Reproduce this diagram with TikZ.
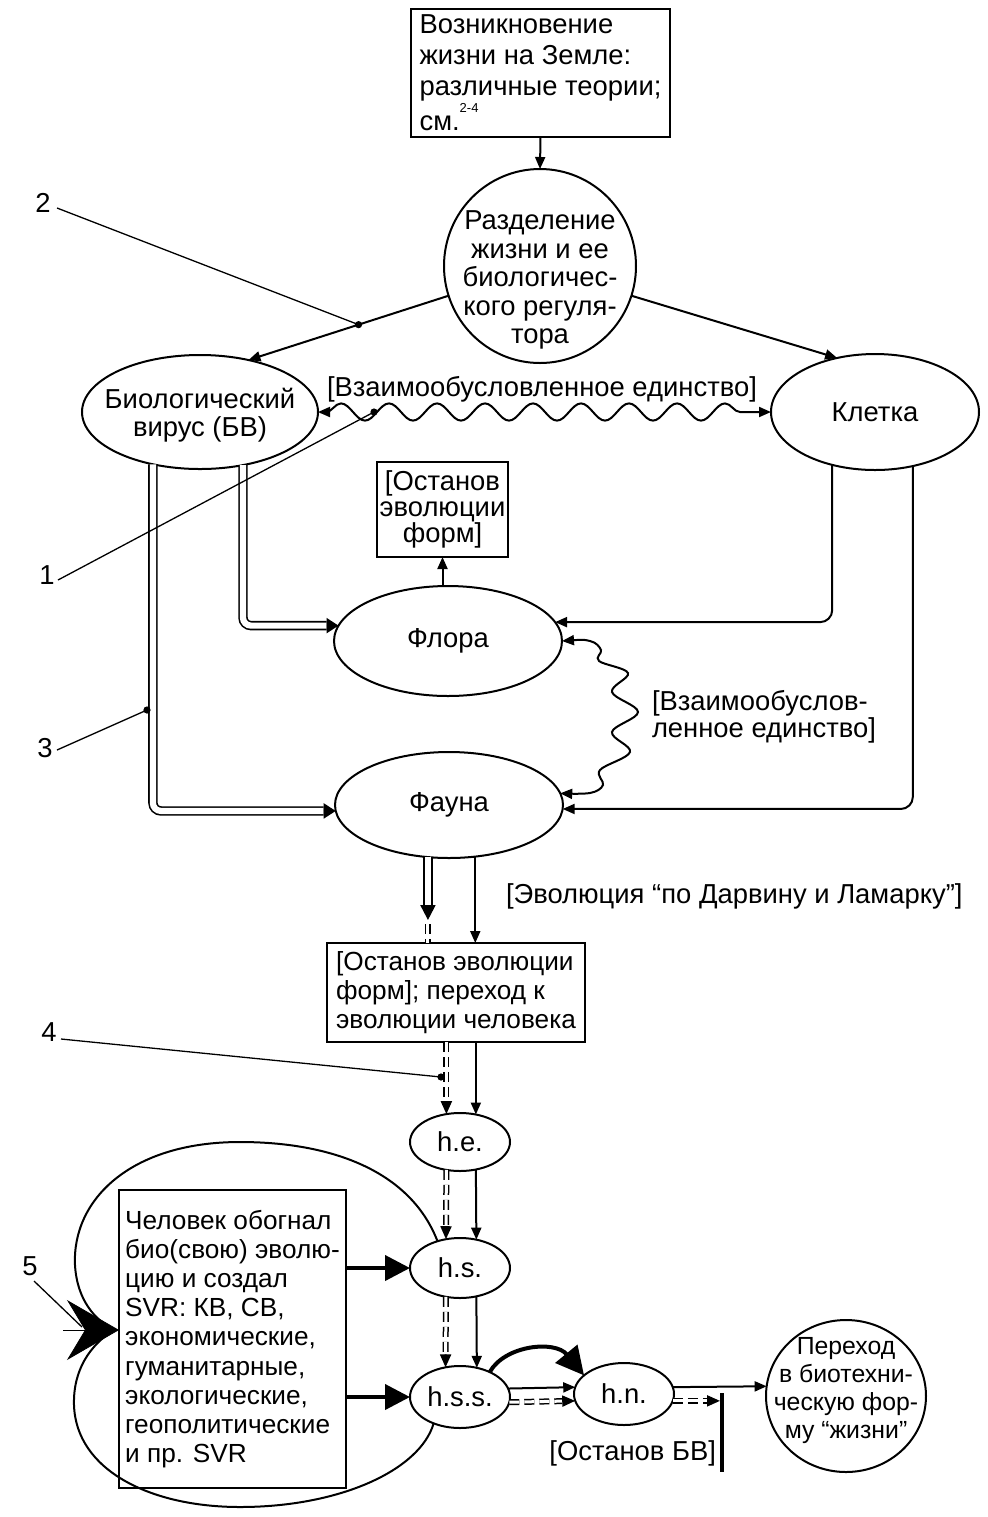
\documentclass[tikz,border=0pt]{standalone}
\usepackage{fontspec}
\setmainfont{Liberation Sans}
\usetikzlibrary{arrows.meta,shapes.geometric,decorations.pathmorphing,calc}
\newcommand{\myfs}[1]{\fontsize{13.7pt}{#1}\selectfont}
\newcommand{\myfsz}[2]{\fontsize{#1}{#2}\selectfont}
\begin{document}
\begin{tikzpicture}[x=0.5pt,y=-0.5pt,
  every node/.style={inner sep=0pt, outer sep=0pt, font=\myfs{14.5pt}},
  ln/.style={line width=1pt},
  arr/.style={ln, -{Triangle[length=6pt,width=5pt]}},
  lead/.style={line width=0.65pt},
  ell/.style={draw, ellipse, ln, inner sep=0pt},
  boxn/.style={draw, line width=1.1pt},
  dbl/.style={line width=0.8pt, double, double distance=3.1pt},
  dbltip/.style={ln, -{Triangle[length=6pt,width=7.5pt]}},
  dbltipb/.style={ln, -{Triangle[length=7.5pt,width=7.5pt]}},
  dbld/.style={line width=0.75pt, double, double distance=1.5pt, dash pattern=on 5pt off 2.5pt},
  dbldtip/.style={ln, -{Triangle[length=6.5pt,width=5.5pt]}},
  thk/.style={line width=2pt, -{Triangle[length=12.5pt,width=12.5pt]}},
  thkc/.style={line width=2pt, -{Triangle[length=14pt,width=14pt]}},
  wave/.style={ln, {Triangle[length=6pt,width=5pt]}-{Triangle[length=6pt,width=5pt]}},
  dotn/.style={circle, fill, minimum size=3.6pt}
]
\fill[white] (0,0) rectangle (988,1517);

% ---------- nodes ----------
\node[boxn, align=left, minimum width=129.5pt, minimum height=64pt, font=\myfs{15.5pt}] (orig) at (540.5,73)
  {Возникновение\\жизни на Земле:\\различные теории;\\см.\raisebox{1.25ex}{\fontsize{6.5pt}{6.5pt}\selectfont 2-4}};

\node[ell, minimum width=96pt, minimum height=97pt] (razd) at (540,266) {};
\node[align=center, font=\myfs{14.25pt}] (razdt) at (540,280) {Разделение\\жизни и ее\\биологичес-\\кого регуля-\\тора};

\node[ell, minimum width=118pt, minimum height=57pt] (bio) at (200,412) {};
\node[align=center, font=\myfs{14pt}] (biot) at (200,415) {Биологический\\вирус (БВ)};

\node[ell, minimum width=104pt, minimum height=58pt] (klet) at (875,412) {Клетка};

\node[anchor=base] (wl1) at (542,396) {[Взаимообусловленное единство]};

\node[boxn, align=center, minimum width=65.5pt, minimum height=47.5pt, font=\myfs{13pt}] (stop1) at (442.5,509.5) {[Останов\\эволюции\\форм]};

\node[ell, minimum width=114pt, minimum height=55pt] (flora) at (448,641) {Флора};
\node[ell, minimum width=114pt, minimum height=53pt] (fauna) at (449,805) {Фауна};

\node[anchor=west, align=left, font=\myfs{12.5pt}] (wl2) at (652,717) {[Взаимообуслов-\\ленное единство]};

\node[anchor=base west] (evl) at (506,903) {[Эволюция “по Дарвину и Ламарку”]};

\node[boxn, align=left, minimum width=129pt, minimum height=49.5pt, font=\myfsz{13.1pt}{14.5pt}] (box2) at (456,992.5)
  {[Останов эволюции\\форм]; переход к\\эволюции человека};

\node[ell, minimum width=50pt, minimum height=29pt] (he) at (460,1142) {h.e.};
\node[ell, minimum width=50pt, minimum height=30pt] (hs) at (460,1268) {h.s.};
\node[ell, minimum width=50pt, minimum height=31pt] (hss) at (460,1397) {h.s.s.};
\node[ell, minimum width=50pt, minimum height=31pt] (hn) at (624,1394) {h.n.};

\node[ell, minimum width=80pt, minimum height=76pt] (per) at (846,1396) {};
\node[align=center, font=\myfsz{12.4pt}{14pt}] (pert) at (846,1391) {Переход\\в биотехни-\\ческую фор-\\му “жизни”};

\node[boxn, align=left, minimum width=113.5pt, minimum height=149pt, font=\myfsz{13.1pt}{14.6pt}] (chel) at (232.5,1339)
  {Человек обогнал\\био(свою) эволю-\\цию и создал\\SVR: КВ, СВ,\\экономические,\\гуманитарные,\\экологические,\\геополитические\\и пр. SVR};

\node[anchor=base east] (stbv) at (716,1460) {[Останов БВ]};

\node (n2) at (43,203) {2};
\node (n1) at (47,575) {1};
\node (n3) at (45,748) {3};
\node (n4) at (49,1032) {4};
\node (n5) at (30,1266) {5};

% ---------- connectors ----------
\draw[arr] (orig.south) -- (razd.north);
\draw[arr] (razd.198) -- (bio.47) coordinate[pos=0.45] (p2);
\draw[arr] (razd.342) -- (klet.125);

\draw[wave, decorate, decoration={snake, segment length=24pt, amplitude=4.3pt, pre length=4pt, post length=4pt}] (bio.east) -- (klet.west);

\draw[arr] (flora.north -| stop1.south) -- (stop1.south);

\coordinate (fl1) at ([xshift=-6pt]flora.172);
\draw[dbl, rounded corners=4pt] (bio.309) |- (fl1);
\draw[dbltip] (fl1) -- (flora.172);

\coordinate (fa1) at ([xshift=-6pt]fauna.183);
\draw[dbl, rounded corners=4pt] (bio.228) |- (fa1);
\draw[dbltip] (fa1) -- (fauna.183);

\draw[arr, rounded corners=6pt] (klet.231) |- (flora.10);
\draw[arr, rounded corners=6pt] (klet.305) |- (fauna.358);

\draw[wave] plot[smooth, tension=0.6] coordinates {(flora.east) (590,641) (601,650) (599,661) (628,673) (612,692) (638,712) (612,732) (630,752) (600,770) (603,785) (590,793) (fauna.6)};

\draw[dbl] (fauna.248) -- (fauna.248 |- 0,906);
\draw[dbltipb] (fauna.248 |- 0,905) -- (fauna.248 |- 0,920);
\draw[dbld] (fauna.248 |- 0,924) -- (fauna.248 |- box2.north);
\draw[arr] (fauna.297) -- (fauna.297 |- box2.north);

\draw[dbld] (he.116 |- box2.south) -- ($(he.116)!6.5pt!(he.116 |- box2.south)$);
\draw[dbldtip] ($(he.116)!6.5pt!(he.116 |- box2.south)$) -- (he.116);
\draw[arr] (he.60 |- box2.south) -- (he.60);

\draw[dbld] (he.244) -- ($(hs.116)!6.5pt!(he.244)$);
\draw[dbldtip] ($(hs.116)!6.5pt!(he.244)$) -- (hs.116);
\draw[arr] (he.300) -- (hs.60);

\draw[dbld] (hs.244) -- ($(hss.116)!6.5pt!(hs.244)$);
\draw[dbldtip] ($(hss.116)!6.5pt!(hs.244)$) -- (hss.116);
\draw[arr] (hs.300) -- (hss.60);

\draw[thk] (hs.west -| chel.east) -- (hs.west);
\draw[thk] (hss.west -| chel.east) -- (hss.west);

\draw[thkc] (hss.40) .. controls (505,1345) and (555,1340) .. (hn.155);
\draw[arr] (hss.10) -- (hn.172);
\draw[dbld] (hss.354) -- ($(hn.188)!6.5pt!(hss.354)$);
\draw[dbldtip] ($(hn.188)!6.5pt!(hss.354)$) -- (hn.188);
\draw[arr] (hn.8) -- (per.173);

\coordinate (bart) at (722,1393);
\coordinate (barb) at (722,1472);
\draw[line width=2pt] (bart) -- (barb);
\coordinate (barhit) at ($(hn.352 -| bart)+(-2,0)$);
\draw[dbld] (hn.352) -- ($(barhit)!6.5pt!(hn.352)$);
\draw[dbldtip] ($(barhit)!6.5pt!(hn.352)$) -- (barhit);

% loop
\coordinate (cusp) at (114,1330);
\draw[ln] (hs.130) .. controls (410,1170) and (330,1142) .. (240,1142) .. controls (130,1142) and (72,1200) .. (75,1265) .. controls (77,1300) and (95,1320) .. (cusp);
\draw[ln] (cusp) .. controls (90,1345) and (73,1370) .. (74,1405) .. controls (76,1470) and (150,1507) .. (240,1507) .. controls (340,1507) and (420,1470) .. (hss.225);
\draw[-{Stealth[length=26pt,width=30pt,inset=9pt]}] ($(chel.west |- cusp)+(-56,0)$) -- (chel.west |- cusp);

% dots and leaders
\node[dotn] (d2) at (p2) {};
\node[dotn] (d1) at (374,412) {};
\node[dotn] (d3) at (147,710) {};
\node[dotn] (d4) at (441,1077) {};
\coordinate (e2) at (57,208);
\coordinate (e1) at (58,580);
\coordinate (e3) at (57,750);
\coordinate (e4) at (61,1039);
\coordinate (e5) at (34,1281);
\coordinate (p5) at (82,1327);
\draw[lead] (e2) -- (d2.center);
\draw[lead] (e1) -- (d1.center);
\draw[lead] (e3) -- (d3.center);
\draw[lead] (e4) -- (d4.center);
\draw[lead] (e5) -- (p5);
\end{tikzpicture}
\end{document}
